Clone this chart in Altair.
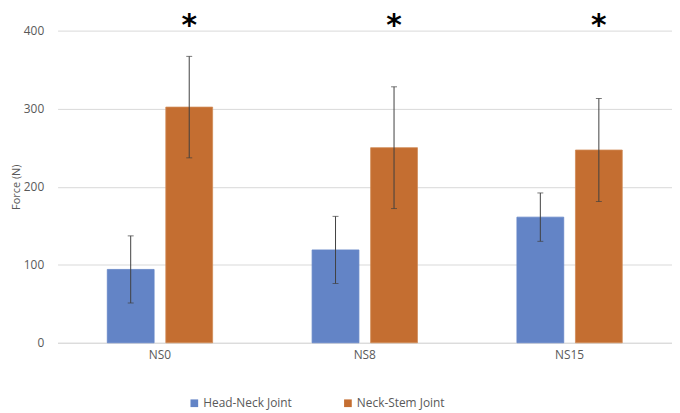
import altair as alt
import pandas as pd

categories = ["NS0", "NS8", "NS15"]
series = ["Head-Neck Joint", "Neck-Stem Joint"]
head_neck = [94, 119, 161]
head_neck_sd = [43, 43, 31]
neck_stem = [302, 250, 247]
neck_stem_sd = [65, 78, 66]
y_ticks = [0, 100, 200, 300, 400]
colors = ["#6384C6", "#C46E31"]

rows = []
for i, c in enumerate(categories):
    rows.append({"cat": c, "series": series[0], "v": head_neck[i],
                 "lo": head_neck[i] - head_neck_sd[i], "hi": head_neck[i] + head_neck_sd[i]})
    rows.append({"cat": c, "series": series[1], "v": neck_stem[i],
                 "lo": neck_stem[i] - neck_stem_sd[i], "hi": neck_stem[i] + neck_stem_sd[i]})
df = pd.DataFrame(rows)

FONT = "Open Sans"
GREY = "#595959"

x = alt.X("cat:N", sort=categories, title=None,
          scale=alt.Scale(paddingInner=0, paddingOuter=0),
          axis=alt.Axis(labelAngle=0, ticks=False, domainColor="#D9D9D9",
                        labelColor=GREY, labelFontSize=12, labelFont=FONT, labelPadding=7))
xo = alt.XOffset("series:N", sort=series,
                 scale=alt.Scale(paddingInner=0.2, paddingOuter=0.85))
y = alt.Y("v:Q", title="Force (N)",
          scale=alt.Scale(domain=[0, 400], nice=False),
          axis=alt.Axis(values=y_ticks, ticks=False, domain=False, gridColor="#D9D9D9",
                        labelColor=GREY, labelFontSize=12, labelFont=FONT, labelPadding=14,
                        titleColor=GREY, titleFontSize=11, titleFont=FONT,
                        titleFontWeight="normal", titlePadding=2))

base = alt.Chart(df)

bars = base.mark_bar(strokeWidth=0.8).encode(
    x=x, xOffset=xo, y=y,
    color=alt.Color("series:N", sort=series, title=None,
                    scale=alt.Scale(domain=series, range=colors),
                    legend=alt.Legend(orient="none", legendX=132, legendY=370,
                                      direction="horizontal", symbolType="square",
                                      symbolSize=60, symbolStrokeWidth=0,
                                      labelFontSize=12, labelFont=FONT, labelColor=GREY,
                                      columnPadding=50, labelOffset=3)),
    stroke=alt.Stroke("series:N", sort=series,
                      scale=alt.Scale(domain=series, range=["#6384C6", "#D08A55"]),
                      legend=None),
)

err = base.mark_rule(color="#404040", strokeWidth=1).encode(
    x=x, xOffset=xo, y=alt.Y("lo:Q"), y2="hi:Q")

cap_lo = base.mark_tick(color="#404040", thickness=1, size=6).encode(
    x=x, xOffset=xo, y=alt.Y("lo:Q"))
cap_hi = base.mark_tick(color="#404040", thickness=1, size=6).encode(
    x=x, xOffset=xo, y=alt.Y("hi:Q"))

stars = base.transform_filter(alt.datum.series == series[1]).mark_text(
    text="*", fontSize=30, fontWeight="bold", color="#000000", font="DejaVu Sans",
    baseline="top").encode(x=x, xOffset=xo, y=alt.value(-20))

chart = alt.layer(bars, err, cap_lo, cap_hi, stars).properties(
    width=620, height=315,
    background="white",
    autosize=alt.AutoSizeParams(type="none"),
    padding={"left": 50, "top": 21, "right": 0, "bottom": 67},
).configure_view(stroke=None)

chart.save("out.html", embed_options={"renderer": "svg", "actions": False})
